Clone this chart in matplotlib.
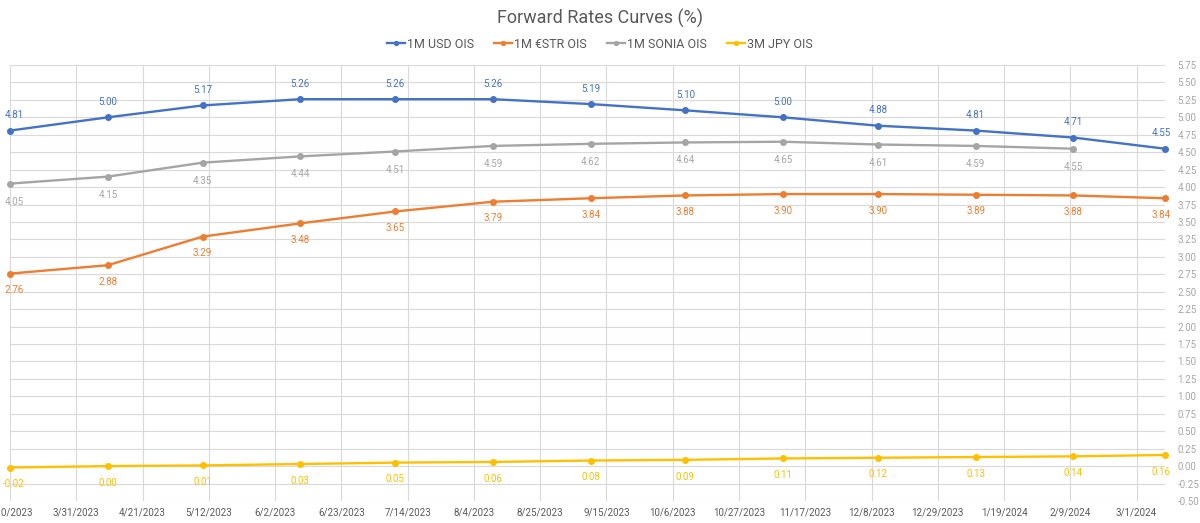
import datetime as dt
import matplotlib
matplotlib.use("Agg")
import matplotlib.pyplot as plt
import matplotlib.dates as mdates
from matplotlib.ticker import MultipleLocator, FormatStrFormatter, FixedLocator, FuncFormatter

plt.rcParams['font.family'] = ['Roboto', 'DejaVu Sans']

# monthly points, 10th of each month
dates = [dt.date(2023, m, 10) for m in range(3, 13)] + [dt.date(2024, m, 10) for m in range(1, 4)]

usd = [4.81, 5.00, 5.17, 5.26, 5.26, 5.26, 5.19, 5.10, 5.00, 4.88, 4.81, 4.71, 4.55]
estr = [2.76, 2.88, 3.29, 3.48, 3.65, 3.79, 3.84, 3.88, 3.90, 3.90, 3.89, 3.88, 3.84]
sonia = [4.05, 4.15, 4.35, 4.44, 4.51, 4.59, 4.62, 4.64, 4.65, 4.61, 4.59, 4.55]
jpy = [-0.02, 0.00, 0.01, 0.03, 0.05, 0.06, 0.08, 0.09, 0.11, 0.12, 0.13, 0.14, 0.16]

series = [
    ("1M USD OIS", usd, "#4472C4", 11),
    ("1M \u20acSTR OIS", estr, "#ED7D31", -12),
    ("1M SONIA OIS", sonia, "#A5A5A5", -13),
    ("3M JPY OIS", jpy, "#FFC000", -12),
]

fig = plt.figure(figsize=(12, 5.23), dpi=100)
ax = fig.add_axes([10 / 1200, 22 / 523, 1155 / 1200, 436 / 523])

for name, vals, col, off in series:
    xs = dates[:len(vals)]
    ax.plot(xs, vals, color=col, lw=1.7, marker="o", ms=4, label=name, clip_on=False, zorder=3)
    n = len(vals)
    for i, (x, v) in enumerate(zip(xs, vals)):
        ha = "center"
        dx = 0
        if i == n - 1 and n == len(dates):
            ha = "right"
            dx = 4
        if i == 0:
            dx = 3
        ax.annotate(f"{v:.2f}", (mdates.date2num(x), v), xytext=(dx, off),
                    textcoords="offset points", ha=ha, va="center",
                    fontsize=7, color=col, annotation_clip=False)

ax.set_xlim(mdates.date2num(dt.date(2023, 3, 10)), mdates.date2num(dt.date(2024, 3, 10)))
ax.set_ylim(-0.5, 5.75)

start = mdates.date2num(dt.date(2023, 3, 10))
ticks = [start + 21 * k for k in range(18)]
ax.xaxis.set_major_locator(FixedLocator(ticks))

def fmt_date(x, pos):
    d = mdates.num2date(x)
    return f"{d.month}/{d.day}/{d.year}"

ax.xaxis.set_major_formatter(FuncFormatter(fmt_date))
ax.yaxis.set_major_locator(MultipleLocator(0.25))
ax.yaxis.set_major_formatter(FormatStrFormatter("%.2f"))
ax.yaxis.tick_right()

ax.tick_params(axis="x", length=0, labelsize=7, labelcolor="#595959", pad=5)
ax.tick_params(axis="y", length=0, labelsize=7, labelcolor="#A6A6A6", pad=9)

ax.grid(True, color="#D9D9D9", lw=0.8)
ax.set_axisbelow(True)
for s in ax.spines.values():
    s.set_visible(False)

fig.text(0.5, 1 - 18 / 523, "Forward Rates Curves (%)", ha="center", va="center",
         fontsize=13, color="#595959")
fig.legend(loc="center", bbox_to_anchor=(0.5, 1 - 44 / 523), ncol=4, frameon=False,
           fontsize=9, labelcolor="#595959", handlelength=1.4, handletextpad=0.2,
           columnspacing=1.6, markerscale=0.7)

fig.savefig("out.png", dpi=100)
